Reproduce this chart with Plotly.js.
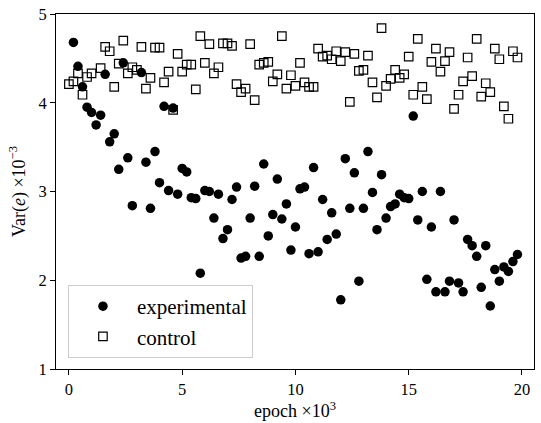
<!DOCTYPE html>
<html>
<head>
<meta charset="utf-8">
<script src="https://cdn.plot.ly/plotly-3.0.1.min.js"></script>
<style>html,body{margin:0;padding:0;background:#fff;}#chart{width:541px;height:423px;}</style>
</head>
<body>
<div id="chart"></div>
<script>
const expX = [0.2,0.4,0.6,0.8,1.0,1.2,1.4,1.6,1.8,2.0,2.2,2.4,2.6,2.8,3.2,3.4,3.6,3.8,4.0,4.2,4.4,4.6,4.8,5.0,5.2,5.4,5.6,5.8,6.0,6.2,6.4,6.6,6.8,7.0,7.2,7.4,7.6,7.8,8.0,8.2,8.4,8.6,8.8,9.0,9.2,9.4,9.6,9.8,10.0,10.2,10.4,10.6,10.8,11.0,11.2,11.4,11.6,11.8,12.0,12.2,12.4,12.6,12.8,13.0,13.2,13.4,13.6,13.8,14.0,14.2,14.4,14.6,14.8,15.0,15.2,15.4,15.6,15.8,16.0,16.2,16.4,16.6,16.8,17.0,17.2,17.4,17.6,17.8,18.0,18.2,18.4,18.6,18.8,19.0,19.2,19.4,19.6,19.8];
const expY = [4.68,4.41,4.18,3.95,3.89,3.75,3.86,4.32,3.56,3.65,3.25,4.45,3.38,2.84,4.34,3.33,2.81,3.45,3.10,3.96,3.01,3.94,2.97,3.26,3.22,2.93,2.92,2.08,3.01,3.00,2.70,2.97,2.47,2.57,2.91,3.05,2.25,2.27,2.70,3.06,2.27,3.31,2.50,2.74,3.14,2.69,2.86,2.34,2.60,3.03,3.05,2.30,3.27,2.32,2.91,2.46,2.76,2.52,1.78,3.37,2.81,3.21,1.99,2.81,3.45,2.99,2.57,3.19,2.70,2.83,2.86,2.97,2.93,2.92,3.85,2.68,3.00,2.01,2.60,1.87,3.00,1.87,1.99,2.68,1.97,1.87,2.46,2.39,2.27,1.92,2.39,1.71,2.12,1.99,2.15,2.10,2.21,2.29];
const ctlX = [0.0,0.2,0.4,0.6,0.8,1.0,1.4,1.6,1.8,2.0,2.2,2.4,2.6,2.8,3.0,3.2,3.4,3.6,3.8,4.0,4.2,4.4,4.6,4.8,5.0,5.2,5.4,5.6,5.8,6.0,6.2,6.4,6.6,6.8,7.0,7.2,7.4,7.6,7.8,8.0,8.2,8.4,8.6,8.8,9.0,9.2,9.4,9.6,9.8,10.0,10.2,10.4,10.6,10.8,11.0,11.2,11.4,11.6,11.8,12.0,12.2,12.4,12.6,12.8,13.0,13.2,13.4,13.6,13.8,14.0,14.2,14.4,14.6,14.8,15.0,15.2,15.4,15.6,15.8,16.0,16.2,16.4,16.6,16.8,17.0,17.2,17.4,17.6,17.8,18.0,18.2,18.4,18.6,18.8,19.0,19.2,19.4,19.6,19.8];
const ctlY = [4.21,4.24,4.33,4.09,4.29,4.33,4.39,4.63,4.58,4.18,4.44,4.70,4.33,4.40,4.37,4.63,4.16,4.28,4.62,4.62,4.23,4.35,3.92,4.55,4.35,4.43,4.43,4.15,4.75,4.45,4.66,4.33,4.40,4.67,4.67,4.64,4.21,4.12,4.16,4.66,4.03,4.43,4.45,4.46,4.24,4.32,4.75,4.16,4.31,4.19,4.45,4.23,4.18,4.18,4.61,4.52,4.53,4.49,4.58,4.47,4.57,4.01,4.55,4.36,4.37,4.53,4.23,4.06,4.84,4.19,4.27,4.37,4.28,4.32,4.52,4.09,4.72,4.18,4.04,4.46,4.61,4.35,4.47,4.57,3.93,4.09,4.24,4.51,4.30,4.72,4.07,4.22,4.12,4.61,4.49,3.96,3.82,4.58,4.51];
const seriesNames = ['experimental', 'control'];
const xTicks = [0, 5, 10, 15, 20];
const yTicks = [1, 2, 3, 4, 5];

const FONT = 'Liberation Serif, Times New Roman, serif';
const traces = [
  {x: expX, y: expY, name: seriesNames[0], type: 'scatter', mode: 'markers',
   marker: {symbol: 'circle', size: 9.5, color: '#000', line: {width: 0}}},
  {x: ctlX, y: ctlY, name: seriesNames[1], type: 'scatter', mode: 'markers',
   marker: {symbol: 'square-open', size: 8.5, color: '#000', line: {width: 1.2, color: '#000'}}}
];
const axisCommon = {
  showgrid: false, zeroline: false, showline: true, mirror: true,
  linecolor: '#000', linewidth: 1, ticks: 'outside', ticklen: 5, tickwidth: 1, tickcolor: '#000',
  tickfont: {family: FONT, size: 16.5, color: '#000'}
};
const layout = {
  width: 541, height: 423,
  margin: {l: 56, r: 7, t: 14, b: 54},
  paper_bgcolor: '#fff', plot_bgcolor: '#fff',
  font: {family: FONT, color: '#000'},
  xaxis: Object.assign({}, axisCommon, {
    range: [-0.57, 20.53], tickmode: 'array', tickvals: xTicks, ticktext: xTicks.map(String),
    title: {text: 'epoch ×10<sup>3</sup>', font: {family: FONT, size: 18, color: '#000'}, standoff: 5}
  }),
  yaxis: Object.assign({}, axisCommon, {
    range: [1, 5], tickmode: 'array', tickvals: yTicks, ticktext: yTicks.map(String),
    title: {text: 'Var(<i>e</i>) ×10<sup>−3</sup>', font: {family: FONT, size: 18, color: '#000'}, standoff: 8}
  }),
  showlegend: true,
  legend: {
    x: 0.025, y: 0.031, xanchor: 'left', yanchor: 'bottom',
    bgcolor: 'rgba(255,255,255,0.8)', bordercolor: '#cccccc', borderwidth: 1,
    font: {family: FONT, size: 21, color: '#000'}, itemwidth: 58
  }
};
Plotly.newPlot('chart', traces, layout, {staticPlot: true, displayModeBar: false});
</script>
</body>
</html>
